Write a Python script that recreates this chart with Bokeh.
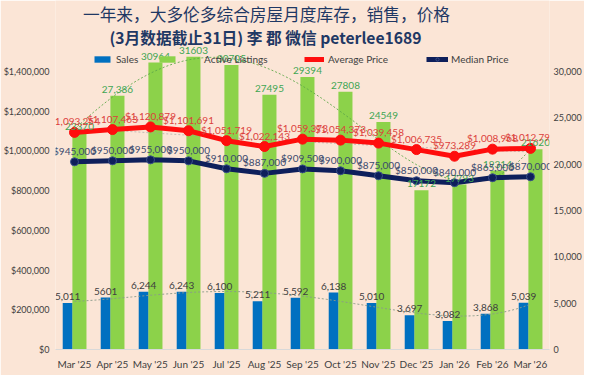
import numpy as np
from bokeh.plotting import figure
from bokeh.models import (Range1d, LinearAxis, FixedTicker, NumeralTickFormatter,
                          ColumnDataSource, LabelSet, Legend, LegendItem, Label)
from bokeh.transform import dodge
from bokeh.core.properties import value
from bokeh.embed import file_html
from bokeh.resources import INLINE

# ---------------- data ----------------
months = ["Mar '25", "Apr '25", "May '25", "Jun '25", "Jul '25", "Aug '25", "Sep '25",
          "Oct '25", "Nov '25", "Dec '25", "Jan '26", "Feb '26", "Mar '26"]
sales = [5011, 5601, 6244, 6243, 6100, 5211, 5592, 6138, 5010, 3697, 3082, 3868, 5039]
active = [23370, 27386, 30964, 31603, 30705, 27495, 29394, 27808, 24549, 17172, 17793, 19314, 21620]
avg_price = [1093254, 1107463, 1120879, 1101691, 1051719, 1022143, 1059373, 1054373,
             1039458, 1006735, 973289, 1008968, 1012796]
median_price = [945000, 950000, 955000, 950000, 910000, 887000, 909500, 900000,
                875000, 850000, 840000, 865000, 870000]
sales_labels = ["5,011", "5601", "6,244", "6,243", "6,100", "5,211", "5,592", "6,138",
                "5,010", "3,697", "3,082", "3,868", "5,039"]
active_labels = ["23370", "27,386", "30964", "31603", "30705", "27495", "29394", "27808",
                 "24549", "17172", "17793", "19314", "21620"]
left_ticks = [0, 200000, 400000, 600000, 800000, 1000000, 1200000, 1400000]
right_ticks = [0, 5000, 10000, 15000, 20000, 25000, 30000]
title1 = "一年来，大多伦多综合房屋月度库存，销售，价格"
title2 = "(3月数据截止31日) 李 郡 微信 peterlee1689"

# ---------------- styling ----------------
BG = "#FBE5D6"
BLUE = "#0070C0"
GREEN = "#8CD24A"
RED = "#FF0D0D"
NAVY = "#0E1F5B"
TXT = "#404040"
FONT = "Lato"

x = list(range(len(months)))
src = ColumnDataSource(dict(
    x=x, sales=sales, active=active, avg=avg_price, med=median_price,
    slab=sales_labels, alab=active_labels,
    avglab=[f"${v:,}" for v in avg_price],
    medlab=[f"${v:,}" for v in median_price],
))

p = figure(width=584, height=375, output_backend="svg", toolbar_location=None,
           x_range=Range1d(-0.5, 12.5), y_range=Range1d(0, 1757554),
           min_border_left=55, min_border_right=33, min_border_top=0, min_border_bottom=26,
           background_fill_color=BG, border_fill_color=BG, outline_line_color=None)
p.extra_y_ranges = {"cnt": Range1d(0, 37662)}
p.xgrid.visible = False
p.ygrid.visible = False

# x axis
p.xaxis.ticker = FixedTicker(ticks=x)
p.xaxis.major_label_overrides = {i: m for i, m in enumerate(months)}
p.xaxis.axis_line_color = "#D9D9D9"
p.xaxis.major_tick_line_color = None
p.xaxis.minor_tick_line_color = None
p.xaxis.major_tick_out = 0
p.xaxis.major_tick_in = 0
p.xaxis.major_label_text_font = FONT
p.xaxis.major_label_text_font_size = "10px"
p.xaxis.major_label_text_color = TXT
p.xaxis.major_label_standoff = 8

# left axis
p.yaxis.ticker = FixedTicker(ticks=left_ticks)
p.yaxis.formatter = NumeralTickFormatter(format="$0,0")
p.yaxis.axis_line_color = None
p.yaxis.major_tick_line_color = None
p.yaxis.minor_tick_line_color = None
p.yaxis.major_tick_out = 0
p.yaxis.major_tick_in = 0
p.yaxis.major_label_text_font = FONT
p.yaxis.major_label_text_font_size = "9px"
p.yaxis.major_label_text_color = TXT
p.yaxis.major_label_standoff = 6

# right axis
rax = LinearAxis(y_range_name="cnt", ticker=FixedTicker(ticks=right_ticks),
                 formatter=NumeralTickFormatter(format="0,0"))
rax.axis_line_color = None
rax.major_tick_line_color = None
rax.minor_tick_line_color = None
rax.major_tick_out = 0
rax.major_tick_in = 0
rax.major_label_text_font = FONT
rax.major_label_text_font_size = "9px"
rax.major_label_text_color = TXT
rax.major_label_standoff = 4
p.add_layout(rax, "right")

# bars
sales_r = p.vbar(x=dodge("x", -0.18, range=p.x_range), top="sales", width=0.26,
                 source=src, y_range_name="cnt", fill_color=BLUE, line_color=None)
active_r = p.vbar(x=dodge("x", 0.13, range=p.x_range), top="active", width=0.37,
                  source=src, y_range_name="cnt", fill_color=GREEN, line_color=None)

# trendlines (polynomial fits of the series, like the spreadsheet's trendlines)
xf = np.linspace(0, len(x) - 1, 97)
p.line(xf, np.polyval(np.polyfit(x, active, 4), xf), y_range_name="cnt",
       line_color="#5FA84A", line_width=1, line_dash="2 2", line_alpha=0.9)
p.line(xf, np.polyval(np.polyfit(x, sales, 4), xf), y_range_name="cnt",
       line_color="#8A9A8A", line_width=1, line_dash="2 2", line_alpha=0.9)
p.line(xf, np.polyval(np.polyfit(x, avg_price, 2), xf),
       line_color="#A0A0A0", line_width=1, line_dash="2 2", line_alpha=0.6)

# lines
avg_l = p.line("x", "avg", source=src, line_color=RED, line_width=5)
avg_s = p.scatter("x", "avg", source=src, size=10, fill_color=RED, line_color=RED)
med_l = p.line("x", "med", source=src, line_color=NAVY, line_width=5)
med_s = p.scatter("x", "med", source=src, size=8, fill_color=NAVY, line_color="#3A4F8A")

# data labels
common = dict(source=src, text_align="center", text_baseline="bottom",
              text_font=value(FONT), text_font_size="10px")
p.add_layout(LabelSet(x=dodge("x", -0.18, range=p.x_range), y="sales", text="slab",
                      y_range_name="cnt", y_offset=3, text_color=TXT, **common))
p.add_layout(LabelSet(x=dodge("x", 0.13, range=p.x_range), y="active", text="alab",
                      y_range_name="cnt", y_offset=3, text_color="#3FA653", **common))
p.add_layout(LabelSet(x="x", y="avg", text="avglab", y_offset=5,
                      text_color="#DC3F3C", **common))
p.add_layout(LabelSet(x="x", y="med", text="medlab", y_offset=5,
                      text_color="#3B4A6E", **common))

# legends
def add_legend(label, rends, lx, standoff, gw=20):
    leg = Legend(items=[LegendItem(label=label, renderers=rends)],
                 location=(lx, 284), orientation="horizontal",
                 background_fill_alpha=0, border_line_color=None, padding=0, margin=0,
                 glyph_width=gw, glyph_height=8, label_height=10, label_standoff=standoff,
                 label_text_font=FONT, label_text_font_size="10px", label_text_color=TXT)
    p.add_layout(leg)

add_legend("Sales", [sales_r], 37, 4)
add_legend("Active Listings", [active_r], 102, 27)
add_legend("Average Price", [avg_l, avg_s], 249, 4)
add_legend("Median Price", [med_l, med_s], 371, 3, gw=22)

# titles
p.add_layout(Label(x=211, y=336, x_units="screen", y_units="screen", text=title1,
                   text_align="center", text_baseline="middle",
                   text_font="Noto Sans CJK SC", text_font_size="16.7px",
                   text_color="#1F3864"))
p.add_layout(Label(x=210, y=312, x_units="screen", y_units="screen", text=title2,
                   text_align="center", text_baseline="middle", text_font_style="bold",
                   text_font="Noto Sans CJK SC", text_font_size="15.7px",
                   text_color="#1F3864"))

open("out.html", "w").write(file_html(p, INLINE))
